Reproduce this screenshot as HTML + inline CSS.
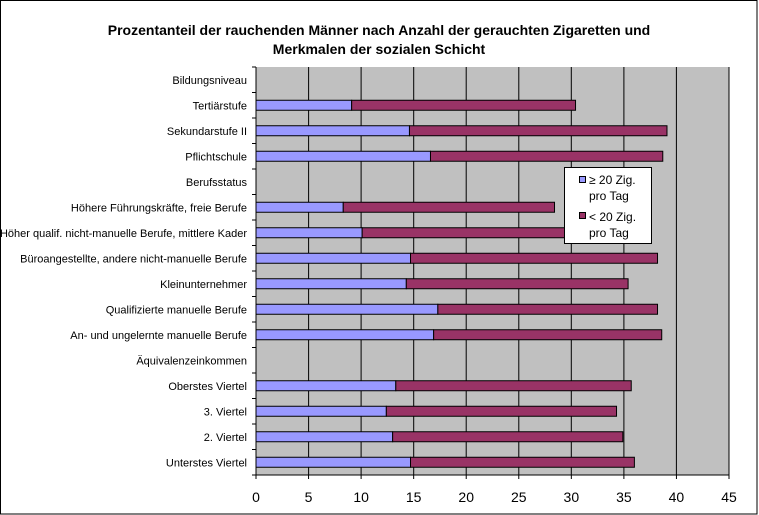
<!DOCTYPE html>
<html><head><meta charset="utf-8"><style>
html,body{margin:0;padding:0;background:#fff;}
svg{display:block;font-family:"Liberation Sans",Arial,sans-serif;}
</style></head><body>
<svg width="759" height="515" viewBox="0 0 759 515" xmlns="http://www.w3.org/2000/svg">
<rect x="0.5" y="0.5" width="756.5" height="513.5" fill="#fff" stroke="#000"/>
<text x="379" y="35" text-anchor="middle" font-size="14" font-weight="bold">Prozentanteil der rauchenden Männer nach Anzahl der gerauchten Zigaretten und</text>
<text x="379" y="54" text-anchor="middle" font-size="14" font-weight="bold">Merkmalen der sozialen Schicht</text>
<rect x="256" y="67" width="473" height="408" fill="#c0c0c0"/>
<g stroke="#000" stroke-width="1">
<line x1="308.6" y1="67" x2="308.6" y2="475"/><line x1="361.1" y1="67" x2="361.1" y2="475"/>
<line x1="413.7" y1="67" x2="413.7" y2="475"/><line x1="466.2" y1="67" x2="466.2" y2="475"/>
<line x1="518.8" y1="67" x2="518.8" y2="475"/><line x1="571.3" y1="67" x2="571.3" y2="475"/>
<line x1="623.9" y1="67" x2="623.9" y2="475"/><line x1="676.4" y1="67" x2="676.4" y2="475"/>
<line x1="729" y1="67" x2="729" y2="475"/>
<line x1="256" y1="67" x2="256" y2="475"/><line x1="256" y1="475" x2="729" y2="475"/>
</g>
<g id="bars" stroke="#000" stroke-width="1"></g>
<g id="ticks" stroke="#000"></g>
<g id="labels" font-size="11" text-anchor="end"></g>
<g id="xl" font-size="14" text-anchor="middle"></g>
<rect x="564.5" y="167.5" width="87" height="76" fill="#fff" stroke="#000"/>
<rect x="579.5" y="176.5" width="6" height="6" fill="#9999ff" stroke="#000"/>
<text x="589" y="184" font-size="12">≥ 20 Zig.</text>
<text x="589" y="200" font-size="12">pro Tag</text>
<rect x="579.5" y="212.5" width="6" height="6" fill="#993366" stroke="#000"/>
<text x="589" y="221" font-size="12">&lt; 20 Zig.</text>
<text x="589" y="237" font-size="12">pro Tag</text>
<script>
(function(){
var cats=[["Bildungsniveau"],["Tertiärstufe",9.1,30.4],["Sekundarstufe II",14.6,39.1],["Pflichtschule",16.6,38.7],["Berufsstatus"],["Höhere Führungskräfte, freie Berufe",8.3,28.4],["Höher qualif. nicht-manuelle Berufe, mittlere Kader",10.1,30.5],["Büroangestellte, andere nicht-manuelle Berufe",14.7,38.2],["Kleinunternehmer",14.3,35.4],["Qualifizierte manuelle Berufe",17.3,38.2],["An- und ungelernte manuelle Berufe",16.9,38.6],["Äquivalenzeinkommen"],["Oberstes Viertel",13.3,35.7],["3. Viertel",12.4,34.3],["2. Viertel",13.0,34.9],["Unterstes Viertel",14.7,36.0]];
var ns="http://www.w3.org/2000/svg",s=10.511,x0=256,T=67,h=25.5;
function el(p,t,a,txt){var e=document.createElementNS(ns,t);for(var k in a)e.setAttribute(k,a[k]);if(txt)e.textContent=txt;document.getElementById(p).appendChild(e);}
cats.forEach(function(c,i){var cy=T+h*(i+0.5);
el("labels","text",{x:247,y:cy+4},c[0]);
if(c.length>1){el("bars","rect",{x:x0,y:cy-5,width:c[1]*s,height:10,fill:"#9999ff"});
el("bars","rect",{x:x0+c[1]*s,y:cy-5,width:(c[2]-c[1])*s,height:10,fill:"#993366"});}
});
for(var i=0;i<=16;i++){var y=T+h*i;el("ticks","line",{x1:252,y1:y,x2:256,y2:y});}
for(var j=0;j<=9;j++){var x=x0+j*5*s;el("ticks","line",{x1:x,y1:475,x2:x,y2:479});el("xl","text",{x:x,y:502},String(j*5));}
})();
</script>
</svg>
</body></html>
